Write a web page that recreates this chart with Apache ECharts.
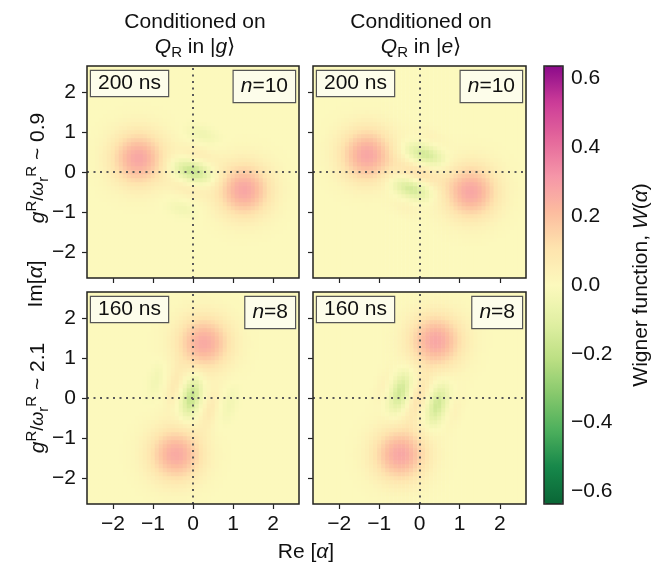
<!DOCTYPE html>
<html><head><meta charset="utf-8">
<script src="https://cdn.jsdelivr.net/npm/echarts@6/dist/echarts.min.js"></script>
<style>html,body{margin:0;padding:0;background:#fff}#c{width:660px;height:564px}</style>
</head><body><div id="c"></div>
<script>
const FONT = '"Liberation Sans", Arial, Helvetica, sans-serif';

// Phase-space bins (cell centres of Re[α] and Im[α])
const alphaBins = [];
for (let k = -26; k <= 26; k++) alphaBins.push((k / 10).toFixed(1));
// Axis ticks
const tickBins = ['-2.0', '-1.0', '0.0', '1.0', '2.0'];
const tickLabels = ['\u22122', '\u22121', '0', '1', '2'];
const cbTicks = [-0.6, -0.4, -0.2, 0, 0.2, 0.4, 0.6];
const cbLabels = ['\u22120.6', '\u22120.4', '\u22120.2', '0.0', '0.2', '0.4', '0.6'];
const wMin = -0.6366, wMax = 0.6366;

// Wigner-function features:
// [Re centre, Im centre, peak W, width along axis, width across, axis angle (rad)]
const wignerG10 = [
  [-1.36,  0.34,  0.27, 0.46, 0.46, 0],
  [ 1.28, -0.45,  0.27, 0.46, 0.46, 0],
  [ 0.00,  0.02, -0.18, 0.36, 0.16, -0.29],
  [ 0.14,  0.46,  0.05, 0.34, 0.13, -0.29],
  [-0.14, -0.44,  0.05, 0.34, 0.13, -0.29],
  [ 0.24,  0.95, -0.05, 0.28, 0.13, -0.29],
  [-0.26, -0.92, -0.04, 0.28, 0.13, -0.29]
];
const wignerE10 = [
  [-1.30,  0.43,  0.27, 0.46, 0.46, 0],
  [ 1.28, -0.49,  0.27, 0.46, 0.46, 0],
  [ 0.00, -0.02,  0.10, 0.40, 0.14, -0.33],
  [ 0.13,  0.45, -0.15, 0.34, 0.15, -0.33],
  [-0.20, -0.42, -0.15, 0.34, 0.15, -0.33],
  [ 0.30,  0.90,  0.03, 0.28, 0.13, -0.33],
  [-0.32, -0.90,  0.03, 0.28, 0.13, -0.33]
];
const wignerG8 = [
  [ 0.28,  1.38,  0.26, 0.46, 0.46, 0],
  [-0.42, -1.41,  0.26, 0.46, 0.46, 0],
  [-0.03,  0.03, -0.19, 0.36, 0.15, 1.33],
  [-0.47,  0.30,  0.07, 0.36, 0.12, 1.33],
  [ 0.43, -0.30,  0.07, 0.36, 0.12, 1.33],
  [-0.92,  0.45, -0.04, 0.32, 0.12, 1.33],
  [ 0.92, -0.15, -0.04, 0.32, 0.12, 1.33]
];
const wignerE8 = [
  [ 0.41,  1.43,  0.27, 0.46, 0.46, 0],
  [-0.47, -1.41,  0.27, 0.46, 0.46, 0],
  [-0.02,  0.00,  0.10, 0.42, 0.13, 1.27],
  [-0.48,  0.15, -0.16, 0.36, 0.15, 1.27],
  [ 0.45, -0.17, -0.16, 0.36, 0.15, 1.27],
  [-0.92,  0.30,  0.03, 0.32, 0.12, 1.27],
  [ 0.90, -0.32,  0.03, 0.32, 0.12, 1.27]
];
const panelTimes = ['200 ns', '200 ns', '160 ns', '160 ns'];
const panelN = ['10', '10', '8', '8'];

const cmap = ['#0a6636','#16874a','#4caf5c','#86c86c','#bde084','#e2f0a4','#fcf9bd',
              '#fee4ae','#fcbc9f','#f595a8','#e4679b','#cc3c98','#8b0a8a'];

function buildCells(features) {
  const out = [];
  for (let i = 0; i < alphaBins.length; i++) {
    for (let j = 0; j < alphaBins.length; j++) {
      const re = +alphaBins[i], im = +alphaBins[j];
      let w = 0;
      for (const [x0, y0, a, su, sv, t] of features) {
        const dx = re - x0, dy = im - y0;
        const u = dx * Math.cos(t) + dy * Math.sin(t);
        const v = -dx * Math.sin(t) + dy * Math.cos(t);
        w += a * Math.exp(-(u * u / (2 * su * su) + v * v / (2 * sv * sv)));
      }
      out.push([i, j, +w.toFixed(4)]);
    }
  }
  return out;
}

const panels = [wignerG10, wignerE10, wignerG8, wignerE8];
const gridPos = [
  {left: 87, top: 66, width: 212, height: 212},
  {left: 313, top: 66, width: 213, height: 212},
  {left: 87, top: 292, width: 212, height: 212},
  {left: 313, top: 292, width: 213, height: 212}
];

const grids = gridPos.map(g => Object.assign({show: true, borderColor: '#222', borderWidth: 1.5,
  backgroundColor: 'transparent', z: 10}, g));
grids.push({left: 544, top: 66, width: 19, height: 438, show: true, borderColor: '#222',
  borderWidth: 1.5, backgroundColor: 'transparent', z: 10});

const FS = 21;
const tickFn = (idx, val) => tickBins.indexOf(val) >= 0;
const labelFmt = v => tickLabels[tickBins.indexOf(v)];
const xAxes = [], yAxes = [];
for (let p = 0; p < 4; p++) {
  const bottomRow = p >= 2, leftCol = p % 2 === 0;
  xAxes.push({type: 'category', gridIndex: p, data: alphaBins, boundaryGap: true,
    axisLine: {show: false}, splitLine: {show: false},
    axisTick: {show: true, alignWithLabel: true, interval: tickFn, length: 5, inside: false,
      lineStyle: {color: '#222', width: 1.2}},
    axisLabel: {show: bottomRow, interval: tickFn, formatter: labelFmt, fontSize: FS,
      fontFamily: FONT, color: '#111', margin: 10}});
  yAxes.push({type: 'category', gridIndex: p, data: alphaBins, boundaryGap: true,
    axisLine: {show: false}, splitLine: {show: false},
    axisTick: {show: true, alignWithLabel: true, interval: tickFn, length: 5, inside: false,
      lineStyle: {color: '#222', width: 1.2}},
    axisLabel: {show: leftCol, interval: tickFn, formatter: labelFmt, fontSize: FS,
      fontFamily: FONT, color: '#111', margin: 11}});
}
xAxes.push({type: 'value', gridIndex: 4, show: false, min: 0, max: 1});
yAxes.push({type: 'value', gridIndex: 4, min: wMin, max: wMax, position: 'right',
  axisLine: {show: false}, splitLine: {show: false},
  axisTick: {show: true, customValues: cbTicks, length: 5, lineStyle: {color: '#222', width: 1.2}},
  axisLabel: {show: true, customValues: cbTicks, fontSize: FS, fontFamily: FONT, color: '#111', margin: 8,
    formatter: v => { const k = cbTicks.findIndex(t => Math.abs(t - v) < 1e-6); return k >= 0 ? cbLabels[k] : ''; }}});

const series = [];
for (let p = 0; p < 4; p++) {
  series.push({type: 'heatmap', xAxisIndex: p, yAxisIndex: p, data: buildCells(panels[p]),
    progressive: 0, silent: true, emphasis: {disabled: true}, z: 2});
}
for (let p = 0; p < 4; p++) {
  series.push({type: 'line', xAxisIndex: p, yAxisIndex: p, data: [], symbol: 'none', silent: true, z: 5,
    markLine: {symbol: 'none', silent: true, animation: false, label: {show: false},
      lineStyle: {type: [2, 4.5], color: '#5a5a5a', width: 2},
      data: [{xAxis: '0.0'}, {yAxis: '0.0'}]}});
}

const base = {fontFamily: FONT, fontSize: FS, lineHeight: 27, verticalAlign: 'middle', fill: '#111', color: '#111'};
const rich = {
  n: Object.assign({}, base),
  i: Object.assign({}, base, {fontStyle: 'italic'}),
  m: Object.assign({}, base, {fontSize: 18}),
  mi: Object.assign({}, base, {fontSize: 18, fontStyle: 'italic'}),
  sub: Object.assign({}, base, {fontSize: 15, lineHeight: 15, verticalAlign: 'bottom'}),
  sup: Object.assign({}, base, {fontSize: 15, lineHeight: 15, verticalAlign: 'top'})
};
function label(x, y, text, rot, extra) {
  return {type: 'text', x: x, y: y, rotation: rot || 0, silent: true, z: 30,
    style: Object.assign({text: text, rich: rich, fontFamily: FONT, fontSize: FS, fill: '#111',
      align: 'center', verticalAlign: 'middle', textAlign: 'center', textVerticalAlign: 'middle'}, extra || {})};
}
const boxStyle = {backgroundColor: '#fdfdea', borderColor: '#555', borderWidth: 1.2, padding: [2, 7, 2, 7]};
const graphic = [
  label(195, 22, 'Conditioned on'),
  label(195, 47, '{i|Q}{sub|R}{n| in |}{i|g}{n|\u27E9}'),
  label(421, 22, 'Conditioned on'),
  label(421, 47, '{i|Q}{sub|R}{n| in |}{i|e}{n|\u27E9}'),
  label(38, 168, '{i|g}{sup|R}{m|/}{mi|\u03C9}{sub|r}{sup|R}{n| ~ 0.9}', Math.PI / 2),
  label(36, 284, '{n|Im[}{i|\u03B1}{n|]}', Math.PI / 2),
  label(38, 398, '{i|g}{sup|R}{m|/}{mi|\u03C9}{sub|r}{sup|R}{n| ~ 2.1}', Math.PI / 2),
  label(306, 552, '{n|Re [}{i|\u03B1}{n|]}'),
  label(641, 285, '{n|Wigner function, }{i|W}{n|(}{i|\u03B1}{n|)}', Math.PI / 2)
];
for (let p = 0; p < 4; p++) {
  const g = gridPos[p];
  graphic.push(label(g.left + 4, g.top + 5, panelTimes[p], 0,
    Object.assign({align: 'left', verticalAlign: 'top', textAlign: 'left', textVerticalAlign: 'top'}, boxStyle)));
  graphic.push(label(g.left + g.width - 4, g.top + 5, '{i|n}{n|=' + panelN[p] + '}', 0,
    Object.assign({align: 'right', verticalAlign: 'top', textAlign: 'right', textVerticalAlign: 'top'}, boxStyle)));
}

const chart = echarts.init(document.getElementById('c'), null, {renderer: 'canvas'});
chart.setOption({
  animation: false,
  backgroundColor: '#fff',
  grid: grids,
  xAxis: xAxes,
  yAxis: yAxes,
  visualMap: {type: 'continuous', min: wMin, max: wMax, seriesIndex: [0, 1, 2, 3], dimension: 2,
    inRange: {color: cmap}, orient: 'vertical', left: 544, top: 66, itemWidth: 19, itemHeight: 438,
    calculable: false, hoverLink: false, padding: 0, text: null, z: 4},
  series: series,
  graphic: graphic
});
</script></body></html>
